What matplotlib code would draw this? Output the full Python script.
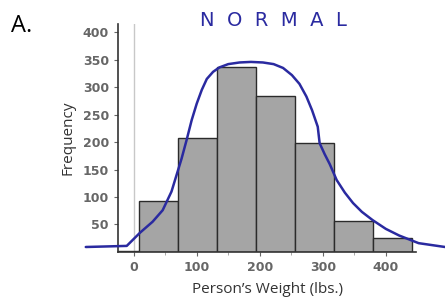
import matplotlib
matplotlib.use('Agg')
import matplotlib.pyplot as plt
import numpy as np

# histogram bins (lbs) and counts
bin_edges = [-54, 8, 70, 132, 194, 256, 318, 380, 442]
counts = [2, 92, 207, 337, 284, 198, 57, 25]

# hand-drawn "normal" curve, traced points (weight, frequency)
curve_x = [-76, -11, 10, 30, 46, 60, 68, 76, 84, 92, 100, 108, 116, 126,
           136, 150, 168, 186, 205, 222, 237, 251, 263, 274, 283, 292,
           295, 303, 311, 322, 335, 348, 362, 379, 400, 421, 452, 494]
curve_y = [9, 11, 35, 55, 76, 110, 140, 170, 204, 240, 270, 295, 315, 328,
           336, 342, 345, 346, 345, 342, 335, 322, 306, 283, 258, 228,
           198, 178, 160, 131, 108, 89, 73, 58, 42, 30, 16, 9]

x_ticks = [0, 100, 200, 300, 400]
y_ticks = [50, 100, 150, 200, 250, 300, 350, 400]

fig = plt.figure(figsize=(4.45, 3.08), dpi=100)
ax = fig.add_axes([0.265, 0.182, 0.670, 0.740])

widths = np.diff(bin_edges)
ax.bar(bin_edges[:-1], counts, width=widths, align='edge',
       color='#a5a5a5', edgecolor='#2b2b2b', linewidth=1.0, zorder=2)

# thin reference line at zero
ax.axvline(0, color='#c8c8c8', linewidth=1.0, zorder=1)

ax.plot(curve_x, curve_y, color='#2a2aa0', linewidth=1.8,
        clip_on=False, zorder=5, solid_capstyle='round',
        solid_joinstyle='round')

ax.set_xlim(-25, 448)
ax.set_ylim(0, 415)
ax.set_xticks(x_ticks)
ax.set_xticks([50, 150, 250, 350], minor=True)
ax.set_yticks(y_ticks)

for s in ['top', 'right']:
    ax.spines[s].set_visible(False)
for s in ['left', 'bottom']:
    ax.spines[s].set_color('#333333')
    ax.spines[s].set_linewidth(1.2)

ax.tick_params(axis='both', labelsize=9, colors='#666666', length=3,
               labelcolor='#666666')
ax.tick_params(axis='x', which='minor', length=2, colors='#999999')
for lab in ax.get_xticklabels() + ax.get_yticklabels():
    lab.set_fontweight('bold')

ax.set_xlabel("Person\u2019s Weight (lbs.)", fontsize=11, color='#333333',
              family='Open Sans', labelpad=6)
ax.set_ylabel("Frequency", fontsize=11, color='#333333',
              family='Open Sans', labelpad=5)

fig.text(0.025, 0.895, "A.", fontsize=17, color='black', family='Open Sans')
fig.text(0.45, 0.915, "N  O  R  M  A  L", fontsize=14, color='#2a2aa0',
         family='DejaVu Sans', fontweight='normal')

fig.savefig('out.png', dpi=100)
